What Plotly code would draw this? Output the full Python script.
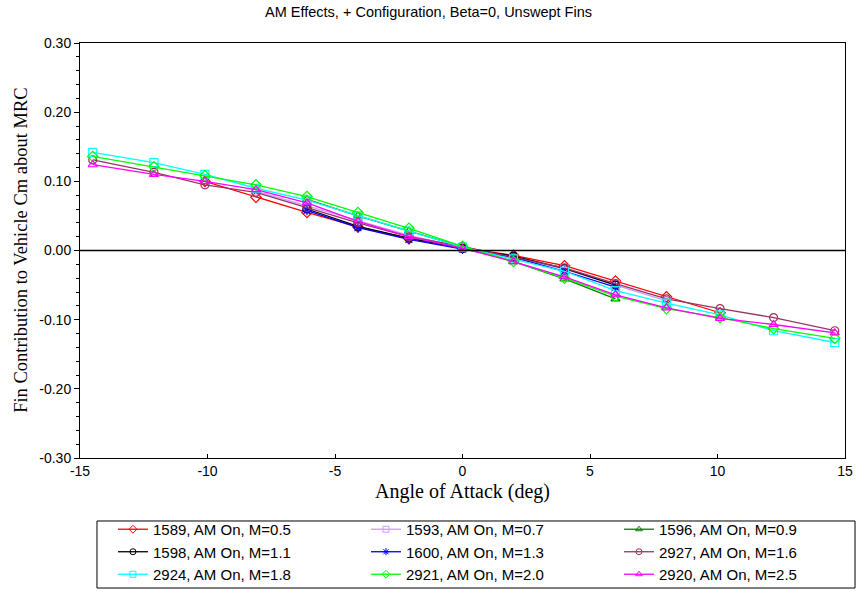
import plotly.graph_objects as go

# angle of attack grid (deg)
alpha_full = [-14.5, -12.1, -10.1, -8.1, -6.1, -4.1, -2.1, 0.0, 2.0, 4.0, 6.0, 8.0, 10.1, 12.2, 14.6]

# 1589, M=0.5
a_1589 = [-10.1, -8.1, -6.1, -4.1, -2.1, 0.0, 2.0, 4.0, 6.0, 8.0, 10.1]
cm_1589 = [0.100, 0.077, 0.055, 0.034, 0.017, 0.004, -0.007, -0.022, -0.044, -0.067, -0.090]
# 1593, M=0.7
a_1593 = [-8.1, -6.1, -4.1, -2.1, 0.0, 2.0, 4.0, 6.0, 8.0]
cm_1593 = [0.086, 0.065, 0.044, 0.022, 0.004, -0.010, -0.027, -0.050, -0.073]
# 1596, M=0.9
a_1596 = [-6.1, -4.1, -2.1, 0.0, 2.0, 4.0, 6.0]
cm_1596 = [0.074, 0.050, 0.028, 0.005, -0.016, -0.041, -0.070]
# 1598, M=1.1
a_1598 = [-6.1, -4.1, -2.1, 0.0, 2.0, 4.0, 6.0]
cm_1598 = [0.060, 0.035, 0.018, 0.003, -0.008, -0.026, -0.050]
# 1600, M=1.3
a_1600 = [-6.1, -4.1, -2.1, 0.0, 2.0, 4.0, 6.0]
cm_1600 = [0.058, 0.033, 0.016, 0.002, -0.010, -0.030, -0.053]
# 2927, M=1.6
cm_2927 = [0.131, 0.113, 0.095, 0.084, 0.062, 0.040, 0.020, 0.006, -0.010, -0.025, -0.048, -0.070, -0.084, -0.097, -0.116]
# 2924, M=1.8
cm_2924 = [0.142, 0.127, 0.110, 0.090, 0.073, 0.050, 0.028, 0.005, -0.012, -0.030, -0.058, -0.076, -0.093, -0.116, -0.133]
# 2921, M=2.0
cm_2921 = [0.136, 0.121, 0.108, 0.095, 0.078, 0.055, 0.032, 0.006, -0.016, -0.040, -0.066, -0.084, -0.097, -0.113, -0.127]
# 2920, M=2.5
cm_2920 = [0.124, 0.110, 0.100, 0.088, 0.069, 0.042, 0.020, 0.003, -0.016, -0.038, -0.064, -0.083, -0.098, -0.107, -0.119]

x_ticks = [-15, -10, -5, 0, 5, 10, 15]
x_ticktext = ["-15", "-10", "-5", "0", "5", "10", "15"]
y_ticks = [-0.3, -0.2, -0.1, 0, 0.1, 0.2, 0.3]
y_ticktext = ["-0.30", "-0.20", "-0.10", "0.00", "0.10", "0.20", "0.30"]

series = [
    ("1589, AM On, M=0.5", a_1589, cm_1589, "#FF0000", "diamond-open"),
    ("1593, AM On, M=0.7", a_1593, cm_1593, "#CC99FF", "square-open"),
    ("1596, AM On, M=0.9", a_1596, cm_1596, "#008000", "triangle-up-open"),
    ("1598, AM On, M=1.1", a_1598, cm_1598, "#000000", "circle-open"),
    ("1600, AM On, M=1.3", a_1600, cm_1600, "#0000FF", "asterisk-open"),
    ("2927, AM On, M=1.6", alpha_full, cm_2927, "#993366", "circle-open"),
    ("2924, AM On, M=1.8", alpha_full, cm_2924, "#00FFFF", "square-open"),
    ("2921, AM On, M=2.0", alpha_full, cm_2921, "#00FF00", "diamond-open"),
    ("2920, AM On, M=2.5", alpha_full, cm_2920, "#FF00FF", "triangle-up-open"),
]

fig = go.Figure()
for name, xs, ys, col, sym in series:
    fig.add_trace(go.Scatter(x=xs, y=ys, name=name, mode="lines+markers", showlegend=False,
                             line=dict(color=col, width=1.3),
                             marker=dict(symbol=sym, size=8, color=col, line=dict(width=1.2, color=col))))
# legend entries with small symbols
for name, xs, ys, col, sym in series:
    fig.add_trace(go.Scatter(x=[None], y=[None], name=name, mode="lines+markers",
                             line=dict(color=col, width=1.3),
                             marker=dict(symbol=sym, size=6, color=col, line=dict(width=1, color=col))))

fig.add_hline(y=0, line=dict(color="black", width=1.5))
# legend frame
fig.add_shape(type="rect", xref="paper", yref="paper", x0=0.0222, x1=1.0131, y0=-0.1518, y1=-0.3133,
              line=dict(color="black", width=1), fillcolor="rgba(0,0,0,0)")
# y axis title
fig.add_annotation(text="Fin Contribution to Vehicle Cm about MRC", xref="paper", yref="paper",
                   x=-0.078, y=0.5, xanchor="center", yanchor="middle", textangle=-90, showarrow=False,
                   font=dict(family="Liberation Serif, Times New Roman", size=18.5, color="black"))

fig.update_layout(
    width=857, height=592,
    margin=dict(l=80, r=12, t=43, b=134, autoexpand=False),
    plot_bgcolor="white", paper_bgcolor="white",
    title=dict(text="AM Effects, + Configuration, Beta=0, Unswept Fins",
               x=0.5, xanchor="center", y=1 - 12 / 592, yanchor="middle",
               font=dict(family="Liberation Sans, Arial", size=14.5, color="black")),
    font=dict(family="Liberation Sans, Arial", size=14, color="black"),
    showlegend=True,
    legend=dict(orientation="h", x=0.0431, xanchor="left", y=-0.1325, yanchor="top",
                entrywidth=208, entrywidthmode="pixels", itemwidth=30,
                bgcolor="rgba(0,0,0,0)", borderwidth=0, tracegroupgap=0,
                font=dict(family="Liberation Sans, Arial", size=15, color="black")),
)

fig.update_xaxes(range=[-15, 15], tickvals=x_ticks, ticktext=x_ticktext,
                 showgrid=False, zeroline=False, showline=True, linecolor="black", linewidth=1,
                 mirror=True, ticks="inside", ticklen=4, tickcolor="black",
                 title=dict(text="Angle of Attack (deg)", standoff=6,
                            font=dict(family="Liberation Serif, Times New Roman", size=20)))
fig.update_yaxes(range=[-0.3, 0.3], tickvals=y_ticks, ticktext=y_ticktext,
                 showgrid=False, zeroline=False, showline=True, linecolor="black", linewidth=1,
                 mirror=True, ticks="outside", ticklen=5, tickcolor="black",
                 minor=dict(dtick=0.02, ticks="outside", ticklen=3, tickcolor="black"))

fig.write_html("out.html", config={"displayModeBar": False},
               post_script="document.body.style.margin='0';")
